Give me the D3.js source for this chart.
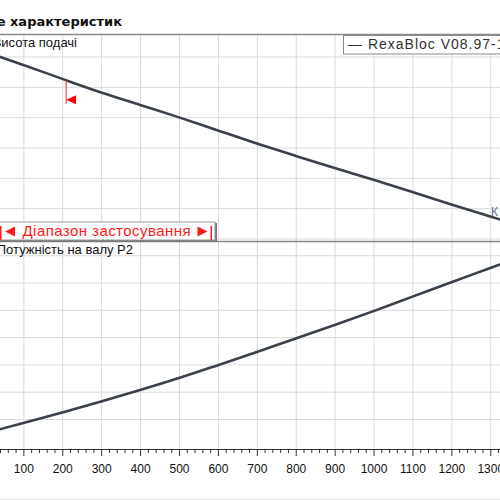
<!DOCTYPE html>
<html>
<head>
<meta charset="utf-8">
<script src="https://cdn.jsdelivr.net/npm/d3@7"></script>
<style>
  body { margin: 0; background: #fff; }
  svg { display: block; font-family: "Liberation Sans", Arial, sans-serif; }
</style>
</head>
<body>
<div id="chart"></div>
<script>
// flow rate Q (m³/h) at each curve point
const flowQ = [0, 100, 200, 300, 400, 500, 600, 700, 800, 900, 1000, 1100, 1200, 1300, 1400];
// head H (m)
const headH = [10.18, 9.74, 9.28, 8.83, 8.42, 8.01, 7.58, 7.15, 6.74, 6.34, 5.95, 5.55, 5.14, 4.74, 4.35];
// shaft power P2 (kW)
const powerP2 = [0.49, 0.87, 1.26, 1.66, 2.08, 2.52, 2.99, 3.47, 3.97, 4.46, 4.97, 5.50, 6.03, 6.55, 7.08];

const flowTicks = [0, 100, 200, 300, 400, 500, 600, 700, 800, 900, 1000, 1100, 1200, 1300, 1400];
const headGrid = [4, 5, 6, 7, 8, 9, 10];
const powerGrid = [1, 2, 3, 4, 5, 6, 7];
const minFlowMark = 210;

const W = 500, H = 500;
const svg = d3.select("#chart").append("svg")
    .attr("width", W).attr("height", H);

// scales
const x = d3.scaleLinear().domain([40, 1325]).range([0, 500]);
const yHead = d3.scaleLinear().domain([4 - 2 / 30.33, 4 + 205 / 30.33]).range([241, 34]);
const yPow = d3.scaleLinear().domain([(446.8 - 449) / 27.3, (446.8 - 241) / 27.3]).range([449, 241]);

const gridCol = "#dadada";

// vertical grid lines over both panels
svg.append("g").selectAll("line")
    .data(flowTicks)
    .enter().append("line")
    .attr("x1", d => x(d) + 0.5).attr("x2", d => x(d) + 0.5)
    .attr("y1", 34).attr("y2", 449)
    .attr("stroke", gridCol).attr("stroke-width", 1);

// horizontal grid - head panel
svg.append("g").selectAll("line")
    .data(headGrid)
    .enter().append("line")
    .attr("x1", 0).attr("x2", W)
    .attr("y1", d => yHead(d)).attr("y2", d => yHead(d))
    .attr("stroke", gridCol).attr("stroke-width", 1);

// horizontal grid - power panel
svg.append("g").selectAll("line")
    .data(powerGrid)
    .enter().append("line")
    .attr("x1", 0).attr("x2", W)
    .attr("y1", d => yPow(d)).attr("y2", d => yPow(d))
    .attr("stroke", gridCol).attr("stroke-width", 1);

// title + rule
svg.append("text")
    .attr("x", 122).attr("y", 26)
    .attr("text-anchor", "end")
    .style("font-family", "'DejaVu Sans', Verdana, sans-serif")
    .style("font-weight", "bold").style("font-size", "13px")
    .attr("fill", "#111")
    .text("Поле характеристик");
svg.append("line")
    .attr("x1", 0).attr("x2", W).attr("y1", 34.5).attr("y2", 34.5)
    .attr("stroke", "#8a8a8a").attr("stroke-width", 1.5);

// panel separator
svg.append("line")
    .attr("x1", 0).attr("x2", W).attr("y1", 241.5).attr("y2", 241.5)
    .attr("stroke", "#888").attr("stroke-width", 1.5);

// curves
const headPts = flowQ.map((q, i) => [q, headH[i]]);
const powPts = flowQ.map((q, i) => [q, powerP2[i]]);
const curveCol = "#3a414b";

svg.append("path")
    .datum(headPts)
    .attr("fill", "none").attr("stroke", curveCol).attr("stroke-width", 2.6)
    .attr("d", d3.line().x(d => x(d[0])).y(d => yHead(d[1])).curve(d3.curveMonotoneX));

svg.append("path")
    .datum(powPts)
    .attr("fill", "none").attr("stroke", curveCol).attr("stroke-width", 2.6)
    .attr("d", d3.line().x(d => x(d[0])).y(d => yPow(d[1])).curve(d3.curveMonotoneX));

// min flow marker on head curve
const hAtMark = d3.scaleLinear().domain(flowQ).range(headH)(minFlowMark);
const mx = x(minFlowMark), my = yHead(hAtMark);
svg.append("line")
    .attr("x1", mx).attr("x2", mx).attr("y1", my).attr("y2", my + 24)
    .attr("stroke", "#ff2020").attr("stroke-width", 1);
svg.append("path")
    .attr("d", `M${mx},${my + 19.5} L${mx + 10},${my + 15} L${mx + 10},${my + 24} Z`)
    .attr("fill", "#ff0000");

// axis labels
svg.append("text")
    .attr("x", 77).attr("y", 47).attr("text-anchor", "end")
    .style("font-size", "13px").attr("fill", "#111")
    .text("Висота подачі");
svg.append("text")
    .attr("x", 133).attr("y", 254).attr("text-anchor", "end")
    .style("font-size", "13px").attr("fill", "#111")
    .text("Потужність на валу  P2");
svg.append("text")
    .attr("x", 491).attr("y", 216)
    .style("font-size", "12px").attr("fill", "#5b6b86")
    .text("К");

// legend box
svg.append("rect")
    .attr("x", 343.5).attr("y", 35.5).attr("width", 170).attr("height", 18.5)
    .attr("fill", "#fff").attr("stroke", "#8a8a8a").attr("stroke-width", 1);
svg.append("text")
    .attr("x", 348).attr("y", 48.5)
    .style("font-size", "14px").style("letter-spacing", "1px").attr("fill", "#333")
    .text("— RexaBloc V08.97-125");

// application range box
svg.append("rect")
    .attr("x", -5).attr("y", 223).attr("width", 222).attr("height", 19)
    .attr("fill", "#777");
svg.append("rect")
    .attr("x", -5).attr("y", 222).attr("width", 220).attr("height", 18)
    .attr("fill", "#fff").attr("stroke", "#999").attr("stroke-width", 1);
const red = "#ff1a1a";
svg.append("rect").attr("x", 0).attr("y", 226).attr("width", 1.5).attr("height", 14).attr("fill", red);
svg.append("rect").attr("x", 210.5).attr("y", 226).attr("width", 1.5).attr("height", 14).attr("fill", red);
svg.append("path").attr("d", "M5,231.5 L15,226.5 L15,236.5 Z").attr("fill", red);
svg.append("path").attr("d", "M207.5,231.5 L197.5,226.5 L197.5,236.5 Z").attr("fill", red);
svg.append("text")
    .attr("x", 22.5).attr("y", 236)
    .attr("textLength", 168).attr("lengthAdjust", "spacing")
    .style("font-size", "15px").attr("fill", red)
    .text("Діапазон застосування");

// x axis
const minorTicks = d3.range(0, 1401, 20).filter(v => v % 100 !== 0);
svg.append("g")
    .attr("transform", "translate(0,449)")
    .call(d3.axisBottom(x).tickValues(minorTicks).tickSize(4).tickFormat(""))
    .call(g => g.select(".domain").remove())
    .selectAll("line").attr("stroke", "#333");
const xAxis = svg.append("g")
    .attr("transform", "translate(0,449)")
    .call(d3.axisBottom(x).tickValues(flowTicks).tickFormat(d3.format("d"))
        .tickSize(7).tickSizeOuter(0).tickPadding(8));
xAxis.select(".domain").attr("stroke", "#333").attr("d", "M0,0.5H500");
xAxis.selectAll("line").attr("stroke", "#333");
xAxis.selectAll("text")
    .style("font-size", "12px")
    .style("font-family", "'Liberation Sans', Arial, sans-serif")
    .attr("fill", "#111");

// faint bottom rule
svg.append("line")
    .attr("x1", 0).attr("x2", W).attr("y1", 499.5).attr("y2", 499.5)
    .attr("stroke", "#e6e6e6").attr("stroke-width", 1);
</script>
</body>
</html>
